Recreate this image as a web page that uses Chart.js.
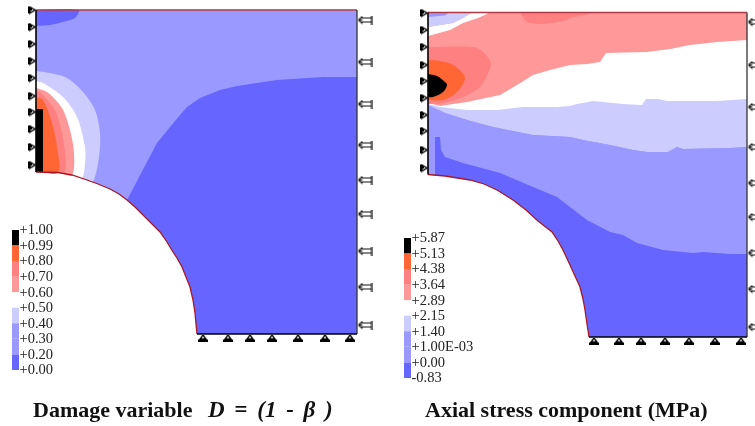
<!DOCTYPE html>
<html><head><meta charset="utf-8">
<script src="https://cdn.jsdelivr.net/npm/chart.js@4/dist/chart.umd.min.js"></script>
<style>
html,body{margin:0;padding:0;background:#fff;overflow:hidden}
#wrap{position:relative;width:755px;height:426px}
canvas{position:absolute;top:0}
.cap{position:absolute;white-space:pre;font-family:"Liberation Serif",serif;font-weight:bold;color:#111;font-size:22px;line-height:24px;top:398px}
.cap i{font-style:italic}
</style></head><body>
<div id="wrap">
<canvas id="c1" width="392" height="426" style="left:0"></canvas>
<canvas id="c2" width="363" height="426" style="left:392px"></canvas>
<div class="cap" id="capL" style="left:33px">Damage variable</div>
<div class="cap" id="capF" style="left:208px;font-size:23px;word-spacing:4px"><i>D = (1 - β )</i></div>
<div class="cap" id="capR" style="left:425px">Axial stress component (MPa)</div>
</div>
<script>
// Band colours, lowest to highest
const C_BLACK='#000000',C_ORANGE='#FF6633',C_PINK2='#FF8080',C_PINK1='#FF9999',C_WHITE='#FFFFFF',C_LILAC='#CCCCFF',C_MID='#9999FF',C_LOW='#6666FF';

// Colour key labels (top to bottom)
const damageLabels=['+1.00','+0.99','+0.80','+0.70','+0.60','+0.50','+0.40','+0.30','+0.20','+0.00'];
const stressLabels=['+5.87','+5.13','+4.38','+3.64','+2.89','+2.15','+1.40','+1.00E-03','+0.00','-0.83'];
const keyColours=[C_BLACK,C_ORANGE,C_PINK2,C_PINK1,C_WHITE,C_LILAC,C_MID,C_MID,C_LOW];

// ---- Damage panel, plate coordinates
const dArc=[[0,162],[22,161.5],[36,159],[51,154],[62,150],[74,145],[83,140],[91,134],[99,127],[107,119],[116,110],[124,102],[131,92],[137,82],[141,76],[146,67],[150,57],[154,47],[157,34],[159,21],[160,10],[161,0]];
const dPlate=[[0,324],[321,324],[321,0]];
const dLowEdge=[[121,191],[134,207],[144,219],[151,227],[164,236],[184,244],[201,248],[241,254],[287,257],[321,257],[321,0]];
const dLowCorner=[[0,324],[43,324],[39,316],[27,312],[14,309],[0,308]];
const dLilac=[[0,263],[14,261],[31,256],[47,242],[59,224],[64,201],[63,177],[57,152],[51,154],[36,159],[22,161.5],[0,162]];
const dWhite=[[0,253],[7,251],[27,237],[41,217],[49,187],[49,171],[46,156],[36,159],[22,161.5],[0,162]];
const dPink1=[[0,246],[11,242],[26,226],[34,204],[38,181],[36,159],[22,161.5],[0,162]];
const dPink2=[[0,244],[7,239],[19,224],[26,201],[29,181],[29,160.5],[22,161.5],[0,162]];
const dOrange=[[0,237],[7,234],[16,211],[21,187],[22,161.5],[0,162]];
const dBlack=[[0,225],[7,225],[7,162],[0,162]];

// ---- Stress panel, plate coordinates
const sArc=[[0,162.5],[17,161],[42,157],[56,153],[69,147],[85,137],[98,127],[110,116],[124,105],[130,96],[135,87],[142,72],[147,61],[152,50],[155,38],[157,27],[159,13],[161,0]];
const sPlate=[[0,324.5],[319,324.5],[319,0]];
const sLowEdge=[[72,164],[105,150],[129,140],[142,130],[159,117],[182,105],[195,102],[209,94],[235,87],[265,84],[275,85],[302,83],[319,83]];
const sLowSliver=[[0,162.5],[7,161.5],[7,200],[12,200],[13,187],[17,180],[35,174]];
const sLilacEdge=[[0,232],[17,224],[39,217],[65,210],[105,202],[142,200],[155,197],[182,192],[205,187],[219,185],[240,185],[249,190],[255,188],[302,189],[319,190]];
const sWhite=[[0,233],[12,230],[39,227],[69,227],[95,230],[129,230],[142,231],[149,233],[165,236],[195,233],[214,232],[218,238],[230,238],[239,236],[289,236],[319,238],[319,324.5],[0,324.5]];
const sPink1=[[0,234],[12,231],[39,235],[72,242],[89,252],[105,262],[122,267],[142,272],[159,273],[172,275],[178,284],[219,285],[242,288],[262,292],[289,295],[319,297],[319,324.5],[0,324.5]];
const sTopPink=[[92,324.5],[99,315],[115,313],[139,317],[142,319],[169,324.5]];
const sPink2=[[0,290],[45,290],[55,285],[63,274],[60,264],[52,250],[35,240],[15,234],[0,233]];
const sOrange=[[0,277],[12,276],[25,272],[37,260],[29,245],[15,237],[0,237]];
const sBlack=[[0,263],[9,261],[17,255],[19,252],[15,245],[5,240],[0,240]];
const sTopWhite=[[0,301],[22,307],[35,314],[50,319],[62,324.5],[44,324.5],[35,319],[25,314],[0,310]];
const sTopLilac=[[0,310],[25,314],[35,319],[44,324.5],[0,324.5]];
const sTopMid=[[0,320],[17,321.5],[21,324.5],[0,324.5]];

// ---- Boundary condition positions
const dLeftSupports=[324,307,290,273,256,238,222,205,187,169];
const dRightSupports=[314,272,230,189,154,120,83,47,9];
const dBottomSupports=[167,192,214,236,262,289,314];
const sLeftSupports=[324,307,290,272,256,239,222,206,187,169];
const sRightSupports=[315,272,230,190,154,120,84,48,10];
const sBottomSupports=[166,191,213,237,261,287,313];

function glyph(w,h,draw){const c=document.createElement('canvas');c.width=w;c.height=h;const g=c.getContext('2d');g.fillStyle='#000';g.strokeStyle='#000';g.lineWidth=1;draw(g);return c;}
const rollerLeft=glyph(8,9,g=>{g.fillRect(0,1,2,7);g.lineWidth=1.3;g.beginPath();g.moveTo(2,1.5);g.lineTo(7,4.5);g.lineTo(2,7.5);g.closePath();g.stroke();g.fillRect(2,2,2,3);});
const rollerRight=glyph(15,9,g=>{g.lineWidth=1.2;g.strokeStyle='#111';g.beginPath();g.moveTo(1,4.5);g.lineTo(5,1);g.moveTo(1,4.5);g.lineTo(5,8);g.moveTo(1,4.5);g.lineTo(5,4.5);g.moveTo(4,2.5);g.lineTo(14,2.5);g.moveTo(4,6.5);g.lineTo(14,6.5);g.moveTo(14,0);g.lineTo(14,9);g.stroke();});
const rollerBottom=glyph(10,7,g=>{g.lineWidth=1.3;g.beginPath();g.moveTo(5,.5);g.lineTo(8,4.5);g.lineTo(2,4.5);g.closePath();g.stroke();g.fillRect(0,5,10,2);});

const pts=a=>a.map(([x,y])=>({x,y}));
const area=(a,c,t)=>({data:pts(a),showLine:true,fill:'shape',backgroundColor:c,borderWidth:0,pointRadius:0,tension:t||0});
const edge=(a,c,w)=>({data:pts(a),showLine:true,fill:false,borderColor:c,borderWidth:w,pointRadius:0,tension:0,clip:false});
const marks=(a,st)=>({data:pts(a),showLine:false,pointStyle:st,pointRadius:5,clip:false});

function keyAreas(yTop,step){
  return keyColours.map((c,i)=>area([[-24,yTop-i*step],[-17,yTop-i*step],[-17,yTop-(i+1)*step],[-24,yTop-(i+1)*step]],c));
}
const keyText=(labels,yTop,step)=>({
  id:'keyText',
  afterDraw(ch){
    const g=ch.ctx,xs=ch.scales.x,ys=ch.scales.y;
    g.save();g.font='14.5px "Liberation Serif"';g.fillStyle='#222';g.textBaseline='middle';g.textAlign='left';
    labels.forEach((t,i)=>g.fillText(t,xs.getPixelForValue(-16.5),ys.getPixelForValue(yTop-i*step)+.5));
    g.restore();
  }
});
function make(id,layers,xr,yr,plugin){
  const ds=layers.slice().reverse();
  new Chart(document.getElementById(id),{type:'scatter',data:{datasets:ds},plugins:[plugin],options:{
    responsive:false,animation:false,events:[],devicePixelRatio:1,layout:{padding:0,autoPadding:false},
    plugins:{legend:{display:false},tooltip:{enabled:false},title:{display:false}},
    scales:{x:{type:'linear',display:false,min:xr[0],max:xr[1]},y:{type:'linear',display:false,min:yr[0],max:yr[1]}}
  }});
}
const step=15.55;
const onX=(v,a)=>a.map(y=>[v,y]), onY=(v,a)=>a.map(x=>[x,v]);
const rev=a=>a.slice().reverse();
const dArcLower=dArc.slice(dArc.findIndex(p=>p[0]===91));
const dLowRight=[[91,134],...dLowEdge,...rev(dArcLower)];
const sDomain=[...sPlate,...rev(sArc)];
const sMid=[...sLowSliver,...sLowEdge,...rev(sLilacEdge)];
const sLilac=[...sLilacEdge,[319,324.5],[0,324.5]];
make('c1',[
  area([...dPlate,...rev(dArc)],C_MID),
  area(dLowRight,C_LOW),area(dLowCorner,C_LOW,.25),area(dLilac,C_LILAC,.3),area(dWhite,C_WHITE,.3),
  area(dPink1,C_PINK1,.3),area(dPink2,C_PINK2,.3),area(dOrange,C_ORANGE,.3),area(dBlack,C_BLACK),
  ...keyAreas(104,step),
  edge([[0,324],[321,324]],'#B03A48',1.5),edge(dArc,'#A81824',1.3),
  edge([[0,162],[0,324]],'#000',1.6),edge([[321,0],[321,324]],'#333',1.3),edge([[161,0],[321,0]],'#000',1.6),
  marks(onX(-4,dLeftSupports),rollerLeft),marks(onX(329,dRightSupports),rollerRight),marks(onY(-4,dBottomSupports),rollerBottom)
],[-36,356],[-92,334],keyText(damageLabels,104,step));
make('c2',[
  area(sDomain,C_LOW),
  area(sMid,C_MID),area(sLilac,C_LILAC),area(sWhite,C_WHITE),area(sPink1,C_PINK1),area(sTopPink,C_PINK2,.25),
  area(sPink2,C_PINK2,.3),area(sOrange,C_ORANGE,.3),area(sBlack,C_BLACK,.4),
  area(sTopWhite,C_WHITE),area(sTopLilac,C_LILAC),area(sTopMid,C_MID),
  ...keyAreas(99,step),
  edge([[0,324.5],[319,324.5]],'#B03A48',1.5),edge(sArc,'#A81824',1.3),
  edge([[0,162.5],[0,324.5]],'#000',1.6),edge([[319,0],[319,324.5]],'#333',1.3),edge([[161,0],[319,0]],'#000',1.6),
  marks(onX(-4,sLeftSupports),rollerLeft),marks(onX(327,sRightSupports),rollerRight),marks(onY(-4,sBottomSupports),rollerBottom)
],[-36,327],[-89,337],keyText(stressLabels,99,step));
</script>
</body></html>
